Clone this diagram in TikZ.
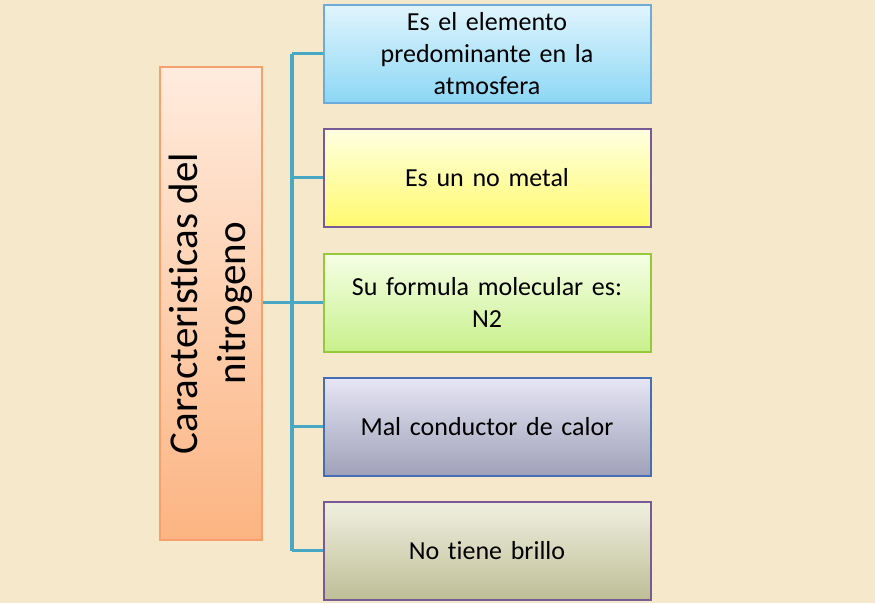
\documentclass[tikz,border=0pt]{standalone}
\usepackage{fontspec}
\setmainfont{Carlito}[Ligatures=NoCommon]
\begin{document}
\begin{tikzpicture}[x=1pt,y=-1pt,
  item/.style={draw, line width=2pt, minimum width=327pt, minimum height=98pt, text width=315pt, align=center, font=\fontsize{26}{32}\selectfont, inner sep=0pt}]
\definecolor{bg}{RGB}{246,233,203}
\definecolor{cn}{RGB}{72,168,196}
\fill[bg] (0,0) rectangle (875,603);
\useasboundingbox (0,0) rectangle (875,603);
\node[draw={rgb,255:red,246;green,160;blue,110}, line width=2pt, top color={rgb,255:red,255;green,236;blue,222}, bottom color={rgb,255:red,252;green,180;blue,130}, minimum width=102pt, minimum height=473pt, inner sep=0pt] (L) at (211,303.5) {};
\node[rotate=90, align=center, font=\fontsize{41}{48}\selectfont] (LT) at (211,303.5) {Caracteristicas del\\nitrogeno};
\node[item, draw={rgb,255:red,110;green,170;blue,220}, top color={rgb,255:red,225;green,245;blue,253}, bottom color={rgb,255:red,140;green,215;blue,245}] (b1) at (487,53.5) {Es el elemento\\predominante en la\\atmosfera};
\node[item, draw={rgb,255:red,120;green,90;blue,150}, top color={rgb,255:red,255;green,255;blue,225}, bottom color={rgb,255:red,255;green,250;blue,110}] (b2) at (487,177.5) {Es un no metal};
\node[item, draw={rgb,255:red,150;green,200;blue,60}, top color={rgb,255:red,245;green,255;blue,230}, bottom color={rgb,255:red,200;green,240;blue,140}] (b3) at (487,302.5) {Su formula molecular es:\\N2};
\node[item, draw={rgb,255:red,70;green,110;blue,180}, top color={rgb,255:red,230;green,230;blue,245}, bottom color={rgb,255:red,160;green,160;blue,185}] (b4) at (487,426.5) {Mal conductor de calor};
\node[item, draw={rgb,255:red,120;green,90;blue,150}, top color={rgb,255:red,240;green,240;blue,225}, bottom color={rgb,255:red,190;green,190;blue,150}] (b5) at (487,550.5) {No tiene brillo};
\coordinate (sp) at (292,302.5);
\draw[draw=cn, line width=3.5pt] (L.east |- sp) -- (sp);
\draw[draw=cn, line width=3.5pt] (292,53.5) -- (292,550.5);
\foreach \b in {b1,b2,b3,b4,b5}{\draw[draw=cn, line width=3.5pt] (292,0 |- \b.west) -- (\b.west);}
\end{tikzpicture}
\end{document}
